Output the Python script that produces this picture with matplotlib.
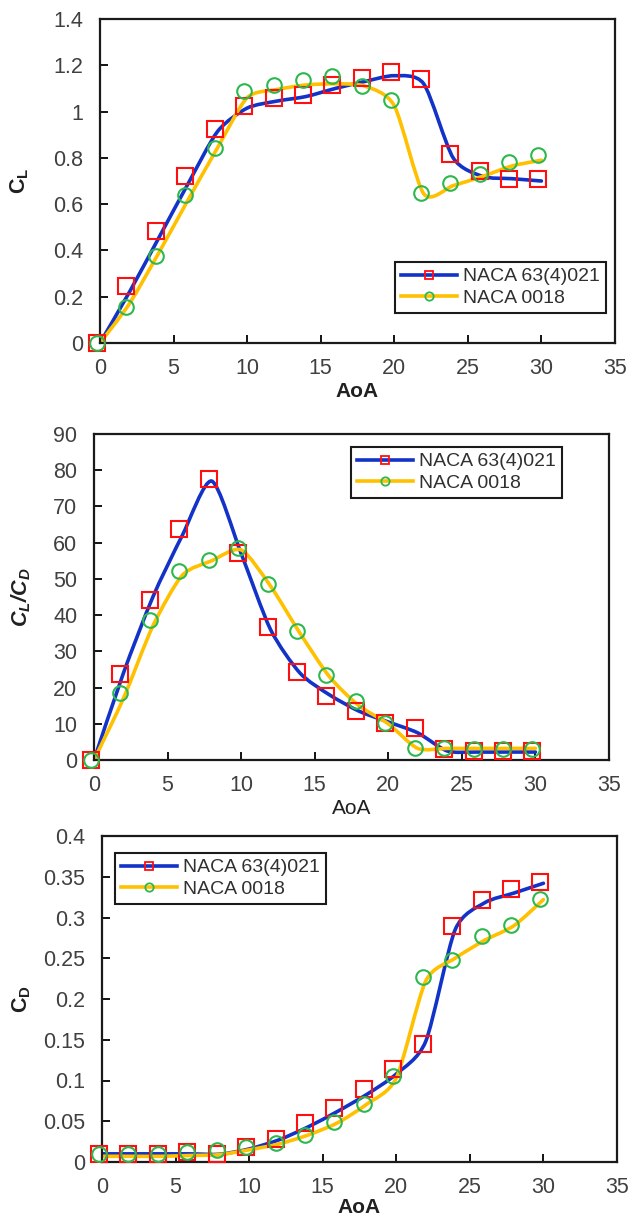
import matplotlib
matplotlib.use("Agg")
import matplotlib.pyplot as plt
from matplotlib.path import Path
from matplotlib.patches import PathPatch
from matplotlib.lines import Line2D
from matplotlib.ticker import FuncFormatter, MultipleLocator

plt.rcParams['font.family'] = ['Liberation Sans', 'DejaVu Sans']
plt.rcParams['mathtext.fontset'] = 'custom'
plt.rcParams['mathtext.rm'] = 'Liberation Sans'
plt.rcParams['mathtext.it'] = 'Liberation Sans:italic'
plt.rcParams['mathtext.bf'] = 'Liberation Sans:bold'
plt.rcParams['mathtext.bfit'] = 'Liberation Sans:italic:bold'

# ---------------- data ----------------
aoa = [0, 2, 4, 6, 8, 10, 12, 14, 16, 18, 20, 22, 24, 26, 28, 30]
aoa_pts = [-0.2, 1.8, 3.8, 5.8, 7.8, 9.8, 11.8, 13.8, 15.8, 17.8, 19.8, 21.8, 23.8, 25.8, 27.8, 29.8]

labels = ["NACA 63(4)021", "NACA 0018"]

# Lift coefficient
cl_63_line = [0, 0.22, 0.455, 0.69, 0.915, 1.015, 1.045, 1.065, 1.10, 1.13, 1.155, 1.12, 0.80, 0.72, 0.71, 0.70]
cl_00_line = [0, 0.17, 0.39, 0.62, 0.845, 1.06, 1.095, 1.115, 1.12, 1.11, 1.025, 0.645, 0.68, 0.72, 0.765, 0.79]
cl_63_pts = [0, 0.246, 0.483, 0.72, 0.925, 1.026, 1.06, 1.07, 1.113, 1.146, 1.171, 1.139, 0.816, 0.743, 0.71, 0.707]
cl_00_pts = [0, 0.157, 0.377, 0.638, 0.842, 1.087, 1.116, 1.135, 1.152, 1.11, 1.048, 0.646, 0.693, 0.729, 0.784, 0.813]

# Lift-to-drag ratio
ld_63_line = [0, 24, 45, 62, 77, 57, 36, 24, 18, 13.5, 10.5, 7.5, 2.5, 2.2, 2.2, 2.2]
ld_00_line = [0, 17, 37, 51, 55, 58, 48, 35, 23, 15, 10, 3.2, 3.2, 3.2, 3.2, 3.2]
ld_63_pts = [0, 23.7, 44.3, 63.9, 77.7, 57.2, 36.7, 24.2, 17.7, 13.6, 10.3, 8.8, 3.0, 2.5, 2.5, 2.5]
ld_00_pts = [0, 18.5, 38.6, 52.2, 55.1, 58.6, 48.5, 35.5, 23.5, 16.3, 10.3, 3.2, 3.2, 3.0, 3.0, 3.0]

# Drag coefficient
cd_63_line = [0.01, 0.01, 0.01, 0.01, 0.0095, 0.016, 0.027, 0.043, 0.062, 0.083, 0.108, 0.148, 0.285, 0.318, 0.33, 0.342]
cd_00_line = [0.007, 0.007, 0.007, 0.008, 0.009, 0.015, 0.022, 0.033, 0.048, 0.071, 0.103, 0.222, 0.25, 0.272, 0.29, 0.322]
cd_63_pts = [0.0095, 0.0095, 0.0095, 0.012, 0.010, 0.019, 0.028, 0.0475, 0.066, 0.089, 0.114, 0.145, 0.289, 0.321, 0.335, 0.344]
cd_00_pts = [0.0103, 0.0095, 0.0095, 0.012, 0.015, 0.019, 0.023, 0.033, 0.049, 0.071, 0.105, 0.227, 0.248, 0.277, 0.291, 0.323]

# ---------------- style ----------------
BLUE = '#1232C8'
GOLD = '#FFC000'
RED = '#FF1010'
GREEN = '#2DB84D'
TICK_C = '#404040'

W, H = 632, 1220
fig = plt.figure(figsize=(W / 100, H / 100), dpi=100)


def px_axes(l, t, r, b):
    return fig.add_axes([l / W, 1 - b / H, (r - l) / W, (b - t) / H])


def smooth(ax, x, y, color, k=8.0):
    n = len(x)
    verts = [(x[0], y[0])]
    codes = [Path.MOVETO]
    for i in range(n - 1):
        p0 = i - 1 if i > 0 else i
        p3 = i + 2 if i + 2 < n else i + 1
        c1 = (x[i] + (x[i + 1] - x[p0]) / k, y[i] + (y[i + 1] - y[p0]) / k)
        c2 = (x[i + 1] - (x[p3] - x[i]) / k, y[i + 1] - (y[p3] - y[i]) / k)
        verts += [c1, c2, (x[i + 1], y[i + 1])]
        codes += [Path.CURVE4] * 3
    ax.add_patch(PathPatch(Path(verts, codes), fill=False, edgecolor=color,
                           lw=2.6, capstyle='round', joinstyle='round', zorder=2))


def fmt(v, pos):
    return '%g' % round(v, 4)


def panel(rect, l63, l00, p63, p00, ymax, ystep, ylabel, xlabel_bold, ylab_x, leg_xy, xpad):
    l, t, r, b = rect
    ax = px_axes(l, t, r, b)
    smooth(ax, aoa, l63, BLUE)
    smooth(ax, aoa, l00, GOLD)
    ax.plot(aoa_pts, p63, ls='none', marker='s', ms=11, mfc='none', mec=RED,
            mew=1.5, clip_on=False, zorder=3)
    ax.plot(aoa_pts, p00, ls='none', marker='o', ms=10.5, mfc='none', mec=GREEN,
            mew=1.5, clip_on=False, zorder=3)
    ax.set_xlim(0, 35)
    ax.set_ylim(0, ymax)
    ax.xaxis.set_major_locator(MultipleLocator(5))
    ax.yaxis.set_major_locator(MultipleLocator(ystep))
    ax.yaxis.set_major_formatter(FuncFormatter(fmt))
    ax.tick_params(direction='in', length=6, width=1.3, top=False, right=False,
                   labelsize=15.5, labelcolor=TICK_C, pad=12)
    ax.tick_params(axis='x', pad=11)
    for s in ax.spines.values():
        s.set_linewidth(1.6)
        s.set_color('#1a1a1a')
    ax.set_xlabel('AoA', fontsize=15, fontweight='bold' if xlabel_bold else 'normal',
                  labelpad=xpad, color='#202020')
    ax.set_ylabel(ylabel, fontsize=15.5, color='#202020')
    ax.yaxis.set_label_coords((ylab_x - l) / (r - l), 0.5)
    handles = [
        Line2D([], [], color=BLUE, lw=2.6, marker='s', ms=6, mfc='none', mec=RED, mew=1.3),
        Line2D([], [], color=GOLD, lw=2.6, marker='o', ms=6, mfc='none', mec=GREEN, mew=1.3),
    ]
    leg = ax.legend(handles, labels, loc='upper left',
                    bbox_to_anchor=(leg_xy[0] / W, 1 - leg_xy[1] / H),
                    bbox_transform=fig.transFigure, fontsize=14, frameon=True,
                    fancybox=False, edgecolor='#1a1a1a', framealpha=1,
                    handlelength=2.9, handletextpad=0.3, borderpad=0.3,
                    labelspacing=0.2, borderaxespad=0)
    leg.get_frame().set_linewidth(1.5)
    for txt in leg.get_texts():
        txt.set_color('#303030')
    return ax


panel((100, 19, 615, 343), cl_63_line, cl_00_line, cl_63_pts, cl_00_pts,
      1.4, 0.2, r'$\mathbf{C_L}$', True, 31, (395, 262), 2)
panel((94, 434, 609, 760), ld_63_line, ld_00_line, ld_63_pts, ld_00_pts,
      90, 10, r'$\mathbfit{C_L/C_D}$', False, 33, (351, 447), 2)
panel((102, 836, 617, 1162), cd_63_line, cd_00_line, cd_63_pts, cd_00_pts,
      0.4, 0.05, r'$\mathbf{C_D}$', True, 33, (115, 853), 0)

fig.savefig('out.png', dpi=100)
